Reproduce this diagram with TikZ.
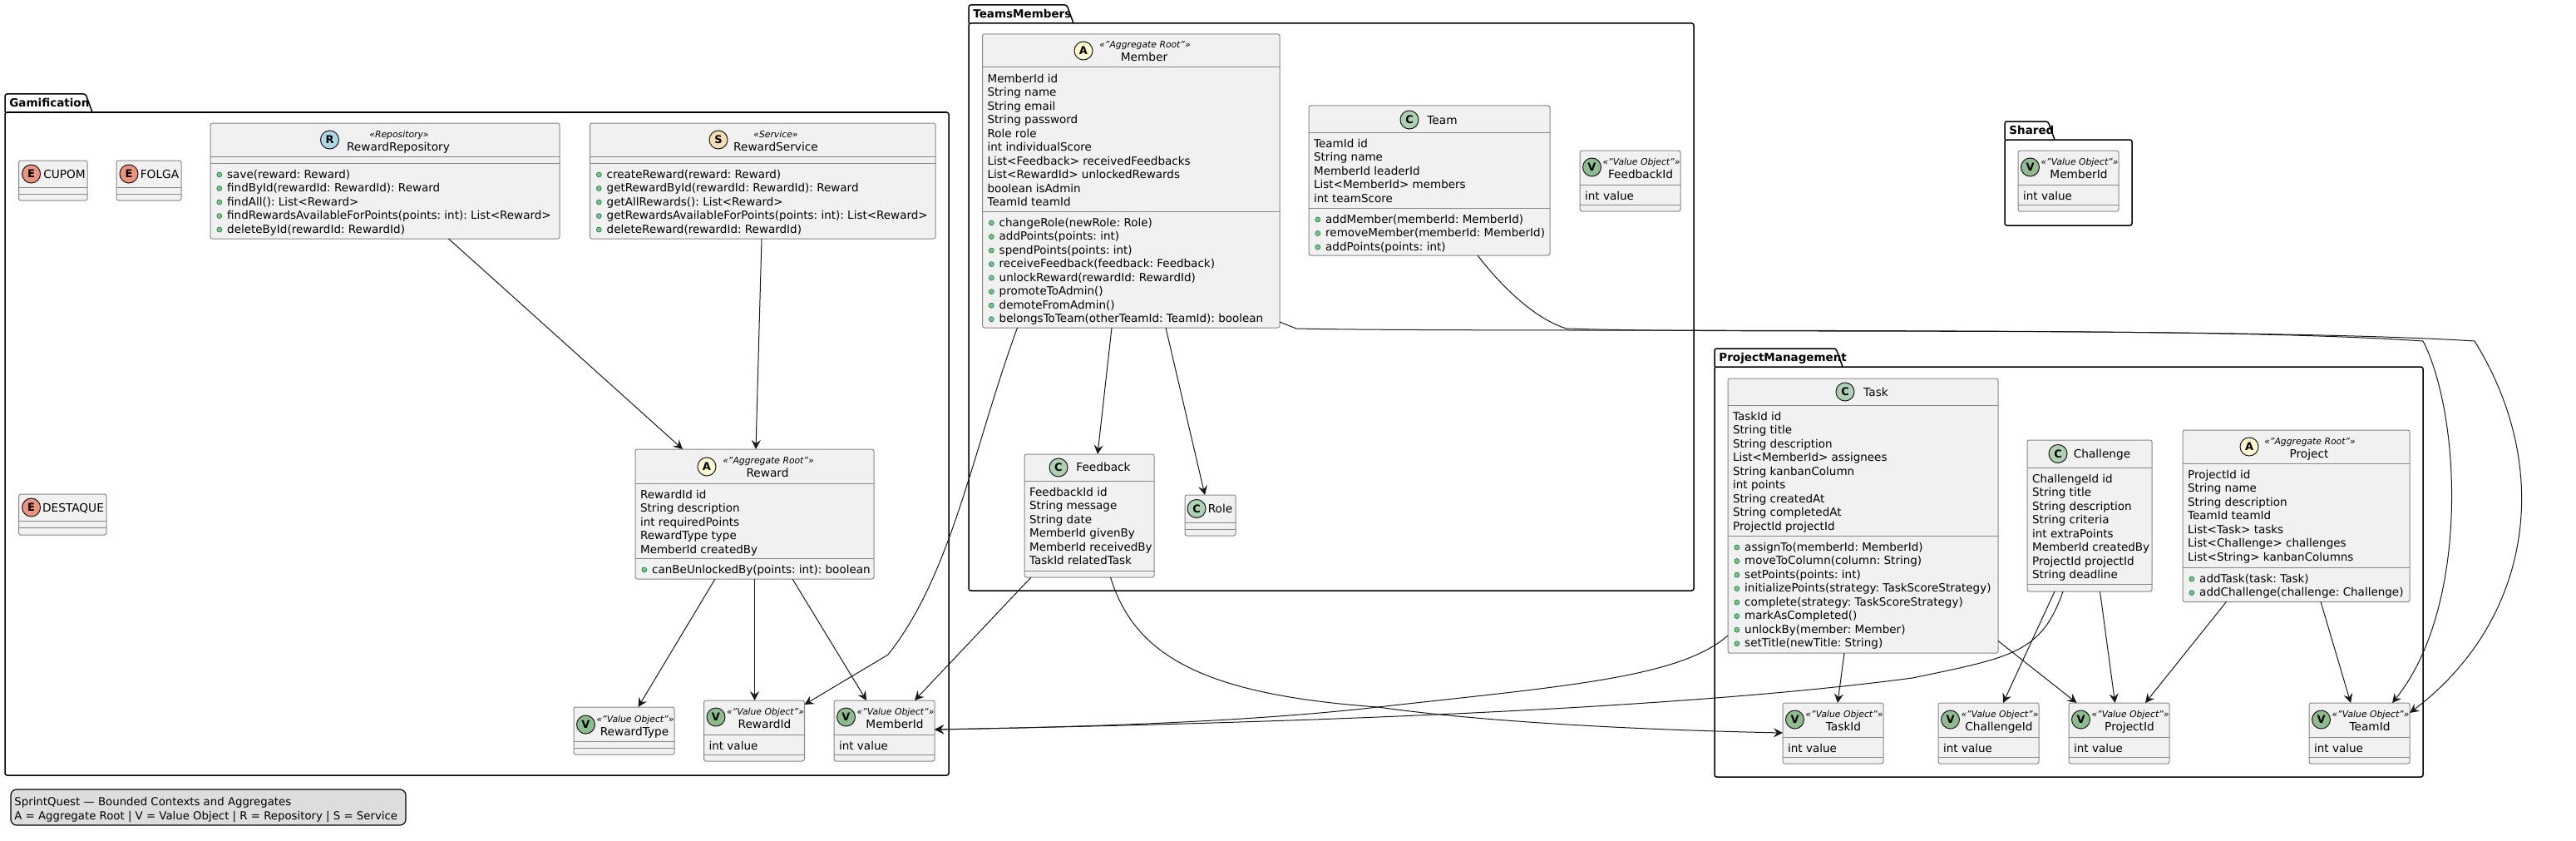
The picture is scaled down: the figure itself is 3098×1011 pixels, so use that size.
\documentclass[tikz,border=0pt]{standalone}
\usepackage{fontspec}
\setmainfont{DejaVu Sans}
\frenchspacing
\usetikzlibrary{positioning}
\usetikzlibrary{arrows.meta}

\definecolor{boxfill}{HTML}{F1F1F1}
\definecolor{boxline}{HTML}{888888}
\definecolor{inkline}{HTML}{181818}
\definecolor{opfill}{HTML}{84BE84}
\definecolor{opline}{HTML}{038048}
\definecolor{spotC}{HTML}{ADD1B2}
\definecolor{spotE}{HTML}{EB937F}
\definecolor{spotA}{HTML}{FFFACD}
\definecolor{spotV}{HTML}{8FBC8F}
\definecolor{spotR}{HTML}{ADD8E6}
\definecolor{spotS}{HTML}{F5DEB3}
\definecolor{legendfill}{HTML}{DDDDDD}

\tikzset{
    classnode/.style={draw=boxline, fill=boxfill, line width=0.5pt, rounded corners=1.25pt, inner sep=0pt, outer sep=0pt},
    divider/.style={draw=boxline, line width=0.5pt},
    spot/.style={circle, draw=inkline, line width=0.5pt, inner sep=0pt, minimum size=11pt, font=\fontsize{6.5}{6.5}\selectfont\bfseries},
    titletext/.style={anchor=base, inner sep=0pt, font=\fontsize{6.85}{8}\selectfont},
    stereotext/.style={anchor=base, inner sep=0pt, font=\fontsize{5.4}{7}\selectfont\itshape},
    linetext/.style={anchor=base west, inner sep=0pt, font=\fontsize{6.75}{8}\selectfont},
    opdot/.style={draw=opline, fill=opfill, line width=0.3pt},
    pkgline/.style={draw=black, line width=0.75pt, rounded corners=1.25pt},
    pkgtext/.style={anchor=base west, inner sep=0pt, font=\fontsize{6.75}{8}\selectfont\bfseries},
    edge/.style={draw=inkline, line width=0.5pt, -{Stealth[length=5.5pt,width=5.5pt,inset=2pt]}},
    legendnode/.style={draw=black, fill=legendfill, line width=0.6pt, rounded corners=3.5pt, inner sep=0pt, outer sep=0pt}
}

% name, left, top, right, bottom, header line, attribute line
\newcommand{\classbox}[7]{
    \node[classnode, minimum width={(#4-#2)*0.5pt}, minimum height={(#5-#3)*0.5pt}] (#1) at ({(#2+#4)/2},{(#3+#5)/2}) {};
    \draw[divider] (#2,#6) -- (#4,#6);
    \draw[divider] (#2,#7) -- (#4,#7);
}
% name, x, y, letter, colour
\newcommand{\classspot}[5]{
    \node[spot, fill=#5] (#1-spot) at (#2,#3) {#4};
}
% name, x, y, text
\newcommand{\classtitle}[4]{
    \node[titletext] (#1-title) at (#2,{#3+5}) {#4};
}
\newcommand{\classstereo}[4]{
    \node[stereotext] (#1-stereo) at (#2,{#3+4}) {#4};
}
% name, left of the box, top of the compartment, lines
\newcommand{\attrlines}[4]{
    \foreach \txt [count=\i] in {#4}
        \node[linetext] (#1-attr-\i) at ({#2+5.7},{#3+18+(\i-1)*16.53}) {\txt};
}
\newcommand{\oplines}[4]{
    \foreach \txt [count=\i] in {#4} {
        \draw[opdot] ({#2+10.8},{#3+14+(\i-1)*16.53}) circle (1.5pt);
        \node[linetext] (#1-op-\i) at ({#2+19.8},{#3+18+(\i-1)*16.53}) {\txt};
    }
}
% name, left, top, title: value object with one field
\newcommand{\valuehead}[4]{
    \classspot{#1}{#2+14.5}{#3+20}{V}{spotV}
    \classstereo{#1}{#2+74}{#3+13}{«"Value Object"»}
    \classtitle{#1}{#2+73}{#3+28}{#4}
}
\newcommand{\valuebox}[4]{
    \classbox{#1}{#2}{#3}{#2+121}{#3+73}{#3+41}{#3+65}
    \valuehead{#1}{#2}{#3}{#4}
    \attrlines{#1}{#2}{#3+41}{int value}
}
% name, left, tab top, tab right, top, right, bottom, text
\newcommand{\packagebox}[8]{
    \draw[pkgline] (#2,#5) -- (#2,#3) -- (#4-8,#3) -- (#4,#5);
    \node[pkgline, inner sep=0pt, outer sep=0pt, minimum width={(#6-#2)*0.5pt}, minimum height={(#7-#5)*0.5pt}] (#1) at ({(#2+#6)/2},{(#5+#7)/2}) {};
    \node[pkgtext] (#1-label) at ({#2+5},{#3+15.5}) {#8};
}

\begin{document}
\begin{tikzpicture}[x=0.5pt,y=-0.5pt]
    \useasboundingbox (0,0) rectangle (3098,1011);

    % Define the packages
    \packagebox{gamification}{6}{113}{111}{135}{1141}{932}{Gamification}
    \packagebox{teamsmembers}{1165}{6}{1291}{28}{2037}{710}{TeamsMembers}
    \packagebox{projectmgmt}{2062}{419}{2216}{441}{2914}{934}{ProjectManagement}
    \packagebox{shared}{2411}{146}{2471}{168}{2564}{271}{Shared}

    % Gamification
    \classbox{cupom}{22.6}{193}{105}{241}{225}{233}
    \classspot{cupom}{37.6}{209}{E}{spotE}
    \classtitle{cupom}{77.5}{209}{CUPOM}

    \classbox{folga}{140}{193}{218}{241}{225}{233}
    \classspot{folga}{155}{209}{E}{spotE}
    \classtitle{folga}{192}{209}{FOLGA}

    \classbox{destaque}{22.6}{594}{128}{643}{626}{634}
    \classspot{destaque}{37.6}{610}{E}{spotE}
    \classtitle{destaque}{88}{610}{DESTAQUE}

    \classbox{rewardrepo}{253}{148}{673}{287}{188}{196}
    \classspot{rewardrepo}{396.5}{168}{R}{spotR}
    \classstereo{rewardrepo}{480}{161}{«Repository»}
    \classtitle{rewardrepo}{479}{176}{RewardRepository}
    \oplines{rewardrepo}{253}{196}{save(reward: Reward), findById(rewardId: RewardId): Reward, findAll(): List<Reward>, findRewardsAvailableForPoints(points: int): List<Reward>, deleteById(rewardId: RewardId)}

    \classbox{rewardservice}{709.5}{148}{1125}{287}{188}{196}
    \classspot{rewardservice}{864}{168}{S}{spotS}
    \classstereo{rewardservice}{933}{161}{«Service»}
    \classtitle{rewardservice}{933}{176}{RewardService}
    \oplines{rewardservice}{709.5}{196}{createReward(reward: Reward), getRewardById(rewardId: RewardId): Reward, getAllRewards(): List<Reward>, getRewardsAvailableForPoints(points: int): List<Reward>, deleteReward(rewardId: RewardId)}

    \classbox{reward}{764}{540}{1051}{696}{581}{671}
    \classspot{reward}{850}{561}{A}{spotA}
    \classstereo{reward}{924}{553}{«"Aggregate Root"»}
    \classtitle{reward}{923}{568}{Reward}
    \attrlines{reward}{764}{581}{RewardId id, String description, int requiredPoints, RewardType type, MemberId createdBy}
    \oplines{reward}{764}{671}{canBeUnlockedBy(points: int): boolean}

    \classbox{rewardtype}{690}{850}{811}{907}{891}{899}
    \valuehead{rewardtype}{690}{851}{RewardType}
    \valuebox{rewardid}{846.5}{842}{RewardId}
    \valuebox{memberidgam}{1003}{842}{MemberId}

    % TeamsMembers
    \classbox{member}{1181.5}{41}{1539}{394}{81}{254}
    \classspot{member}{1303}{61}{A}{spotA}
    \classstereo{member}{1377}{54}{«"Aggregate Root"»}
    \classtitle{member}{1376}{69}{Member}
    \attrlines{member}{1181.5}{81}{MemberId id, String name, String email, String password, Role role, int individualScore, List<Feedback> receivedFeedbacks, List<RewardId> unlockedRewards, boolean isAdmin, TeamId teamId}
    \oplines{member}{1181.5}{254}{changeRole(newRole: Role), addPoints(points: int), spendPoints(points: int), receiveFeedback(feedback: Feedback), unlockReward(rewardId: RewardId), promoteToAdmin(), demoteFromAdmin(), belongsToTeam(otherTeamId: TeamId): boolean}

    \classbox{team}{1574}{127}{1864}{307}{159}{250}
    \classspot{team}{1695}{144}{C}{spotC}
    \classtitle{team}{1734.5}{144}{Team}
    \attrlines{team}{1574}{159}{TeamId id, String name, MemberId leaderId, List<MemberId> members, int teamScore}
    \oplines{team}{1574}{250}{addMember(memberId: MemberId), removeMember(memberId: MemberId), addPoints(points: int)}

    \valuebox{feedbackid}{1900}{181}{FeedbackId}

    \classbox{feedback}{1232}{546}{1388}{694}{578}{686}
    \classspot{feedback}{1273}{562}{C}{spotC}
    \classtitle{feedback}{1327}{561}{Feedback}
    \attrlines{feedback}{1232}{578}{FeedbackId id, String message, String date, MemberId givenBy, MemberId receivedBy, TaskId relatedTask}

    \classbox{role}{1425}{595}{1486}{644}{628}{636}
    \classspot{role}{1439}{611.5}{C}{spotC}
    \classtitle{role}{1467.5}{611.5}{Role}

    % ProjectManagement
    \classbox{task}{2078}{455}{2403}{785}{487}{644}
    \classspot{task}{2219}{471}{C}{spotC}
    \classtitle{task}{2256}{471}{Task}
    \attrlines{task}{2078}{487}{TaskId id, String title, String description, List<MemberId> assignees, String kanbanColumn, int points, String createdAt, String completedAt, ProjectId projectId}
    \oplines{task}{2078}{644}{assignTo(memberId: MemberId), moveToColumn(column: String), setPoints(points: int), initializePoints(strategy: TaskScoreStrategy), complete(strategy: TaskScoreStrategy), markAsCompleted(), unlockBy(member: Member), setTitle(newTitle: String)}

    \classbox{challenge}{2438}{529}{2588}{711}{562}{702}
    \classspot{challenge}{2475}{545.5}{C}{spotC}
    \classtitle{challenge}{2528}{545.5}{Challenge}
    \attrlines{challenge}{2438}{562}{ChallengeId id, String title, String description, String criteria, int extraPoints, MemberId createdBy, ProjectId projectId, String deadline}

    \classbox{project}{2625}{517}{2898}{723.5}{557}{682}
    \classspot{project}{2705}{537}{A}{spotA}
    \classstereo{project}{2778}{530}{«"Aggregate Root"»}
    \classtitle{project}{2777}{545}{Project}
    \attrlines{project}{2625}{557}{ProjectId id, String name, String description, TeamId teamId, List<Task> tasks, List<Challenge> challenges, List<String> kanbanColumns}
    \oplines{project}{2625}{682}{addTask(task: Task), addChallenge(challenge: Challenge)}

    \valuebox{taskid}{2144}{845}{TaskId}
    \valuebox{challengeid}{2331}{845}{ChallengeId}
    \valuebox{projectid}{2488}{845}{ProjectId}
    \valuebox{teamid}{2777}{845}{TeamId}

    % Shared
    \valuebox{memberidshared}{2427}{181}{MemberId}

    % Legend
    \node[legendnode, minimum width=237.5pt, minimum height=21.5pt] (legend) at (250.5,970.5) {};
    \node[linetext, font=\fontsize{6.65}{8}\selectfont] (legend-top) at (17,968) {SprintQuest — Bounded Contexts and Aggregates};
    \node[linetext, font=\fontsize{6.65}{8}\selectfont] (legend-bottom) at (17,985) {A = Aggregate Root | V = Value Object | R = Repository | S = Service};

    % Define the bends of the curved lines
    \coordinate (rewardbend) at (1068,787);
    \coordinate (memberbend) at (1559,395);
    \coordinate (teambend) at (1884,395);
    \coordinate (outerbend) at (2976,410);
    \coordinate (innerbend) at (2914,410);
    \coordinate (feedbackcross) at (1657,850);
    \coordinate (taskcross) at (1657,850);
    \coordinate (challengebend) at (2300,815);

    % Draw the lines
    \draw[edge] ([shift={(286.5,0)}]rewardrepo.south west) -- ([shift={(57,0)}]reward.north west);
    \draw[edge] ([shift={(206.5,0)}]rewardservice.south west) -- ([shift={(145,0)}]reward.north west);
    \draw[edge] ([shift={(96,0)}]reward.south west) -- ([shift={(77.5,0)}]rewardtype.north west);
    \draw[edge] ([shift={(143.5,0)}]reward.south west) -- ([shift={(61,0)}]rewardid.north west);
    \draw[edge] ([shift={(189,0)}]reward.south west) -- ([shift={(39,0)}]memberidgam.north west);
    \draw[edge] ([shift={(42,0)}]member.south west) .. controls (1170,540) and (1145,690) .. (rewardbend) -- ([shift={(0,5)}]rewardid.north east);
    \draw[edge] ([shift={(155.5,0)}]member.south west) -- ([shift={(88,0)}]feedback.north west);
    \draw[edge] ([shift={(220.5,0)}]member.south west) -- ([shift={(24,0)}]role.north west);
    \draw[edge] ([shift={(0,-7)}]member.south east) -- (memberbend) .. controls (1800,400) and (2700,392) .. (outerbend) .. controls (3075,570) and (3040,750) .. ([shift={(0,12)}]teamid.north east);
    \draw[edge] ([shift={(203,0)}]team.south west) .. controls (1810,350) and (1850,385) .. (teambend) .. controls (2100,402) and (2650,392) .. (innerbend) .. controls (2960,500) and (2970,730) .. ([shift={(100,0)}]teamid.north west);
    \draw[edge] ([shift={(8,0)}]feedback.south west) -- ([shift={(97,0)}]memberidgam.north west);
    \draw[edge] ([shift={(103.5,0)}]feedback.south west) .. controls (1365,790) and (1450,835) .. (feedbackcross) .. controls (1800,870) and (2000,878) .. ([shift={(0,36)}]taskid.north west);
    \draw[edge] ([shift={(0,-21)}]task.south west) .. controls (2020,815) and (1880,825) .. (taskcross) .. controls (1500,868) and (1300,874) .. ([shift={(0,35)}]memberidgam.north east);
    \draw[edge] ([shift={(43,0)}]challenge.south west) .. controls (2455,785) and (2420,790) .. (challengebend) .. controls (2000,855) and (1500,870) .. ([shift={(0,35)}]memberidgam.north east);
    \draw[edge] ([shift={(140,0)}]task.south west) -- ([shift={(66,0)}]taskid.north west);
    \draw[edge] ([shift={(0,-14.5)}]task.south east) -- ([shift={(9.5,0)}]projectid.north west);
    \draw[edge] ([shift={(33,0)}]challenge.south west) -- ([shift={(78,0)}]challengeid.north west);
    \draw[edge] ([shift={(87.5,0)}]challenge.south west) -- ([shift={(55.6,0)}]projectid.north west);
    \draw[edge] ([shift={(52.4,0)}]project.south west) -- ([shift={(92,0)}]projectid.north west);
    \draw[edge] ([shift={(166,0)}]project.south west) -- ([shift={(50,0)}]teamid.north west);
\end{tikzpicture}
\end{document}
